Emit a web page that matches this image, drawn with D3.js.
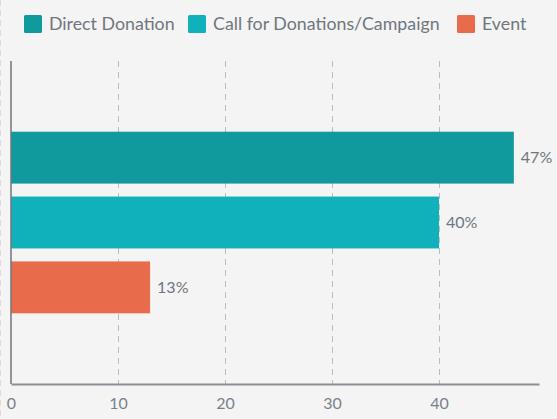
<!DOCTYPE html>
<html>
  <head>
    <meta charset="utf-8">
    <title>Donation sources</title>
    <script src="https://d3js.org/d3.v7.min.js"></script>
    <style>
      body { margin: 0; background: #f4f4f4; }
      svg { display: block; font-family: Lato, "Open Sans", sans-serif; }
    </style>
  </head>
  <body>
    <div id="chart"></div>
    <script>
      // data
      var series = ["Direct Donation", "Call for Donations/Campaign", "Event"];
      var values = [47, 40, 13];
      var colors = ["#119a9e", "#10b1ba", "#e86b4c"];
      var ticks = [0, 10, 20, 30, 40];

      var width = 557, height = 419;
      var margin = { top: 61, right: 18, bottom: 35, left: 11 };

      var svg = d3.select("#chart")
        .append("svg")
        .attr("width", width)
        .attr("height", height);

      // faint dashed border on the left edge
      svg.append("line")
        .attr("x1", 0.5).attr("x2", 0.5)
        .attr("y1", 0).attr("y2", height)
        .attr("stroke", "#dcdcdc")
        .attr("stroke-dasharray", "6,4");

      var x = d3.scaleLinear()
        .domain([0, d3.max(values) * 1.05])
        .range([margin.left, width - margin.right]);

      // one group, three bars
      var group = d3.scaleBand()
        .domain(["all"])
        .range([margin.top, height - margin.bottom])
        .paddingOuter(0.33);
      var y = d3.scaleBand()
        .domain(series)
        .range([group("all"), group("all") + group.bandwidth()])
        .paddingInner(0.2)
        .paddingOuter(0.1);

      // gridlines
      svg.append("g")
        .selectAll("line")
        .data(ticks.slice(1))
        .enter().append("line")
          .attr("x1", function(d) { return Math.round(x(d)) + 0.5; })
          .attr("x2", function(d) { return Math.round(x(d)) + 0.5; })
          .attr("y1", margin.top)
          .attr("y2", height - margin.bottom)
          .attr("stroke", "#b9bdc2")
          .attr("stroke-dasharray", "6,5");

      // bars
      svg.append("g")
        .selectAll("rect")
        .data(values)
        .enter().append("rect")
          .attr("x", x(0))
          .attr("y", function(d, i) { return y(series[i]); })
          .attr("width", function(d) { return x(d) - x(0); })
          .attr("height", y.bandwidth())
          .attr("fill", function(d, i) { return colors[i]; });

      // value labels
      svg.append("g")
        .selectAll("text")
        .data(values)
        .enter().append("text")
          .attr("x", function(d) { return x(d) + 7; })
          .attr("y", function(d, i) { return y(series[i]) + y.bandwidth() / 2; })
          .attr("dy", "0.35em")
          .attr("fill", "#6f767e")
          .style("font-size", "16px")
          .text(function(d) { return d + "%"; });

      // x axis
      var xAxis = svg.append("g")
        .attr("transform", "translate(0," + (height - margin.bottom) + ")")
        .call(d3.axisBottom(x).tickValues(ticks).tickSize(0).tickPadding(14));
      xAxis.select(".domain")
        .attr("stroke", "#8a9096")
        .attr("stroke-width", 2);
      xAxis.selectAll("text")
        .attr("fill", "#7b8188")
        .style("font-size", "16px")
        .style("font-family", "Lato, sans-serif");

      // y axis line
      svg.append("line")
        .attr("x1", x(0)).attr("x2", x(0))
        .attr("y1", margin.top)
        .attr("y2", height - margin.bottom)
        .attr("stroke", "#6f767e")
        .attr("stroke-width", 1.5);

      // legend
      var legendX = [24, 188, 457];
      var legend = svg.append("g")
        .selectAll("g")
        .data(series)
        .enter().append("g")
          .attr("transform", function(d, i) { return "translate(" + legendX[i] + ",15)"; });
      legend.append("rect")
        .attr("width", 18)
        .attr("height", 18)
        .attr("rx", 1.5)
        .attr("fill", function(d, i) { return colors[i]; });
      legend.append("text")
        .attr("x", 25)
        .attr("y", 9)
        .attr("dy", "0.35em")
        .attr("fill", "#6f767e")
        .style("font-size", "17.8px")
        .text(function(d) { return d; });
    </script>
  </body>
</html>
